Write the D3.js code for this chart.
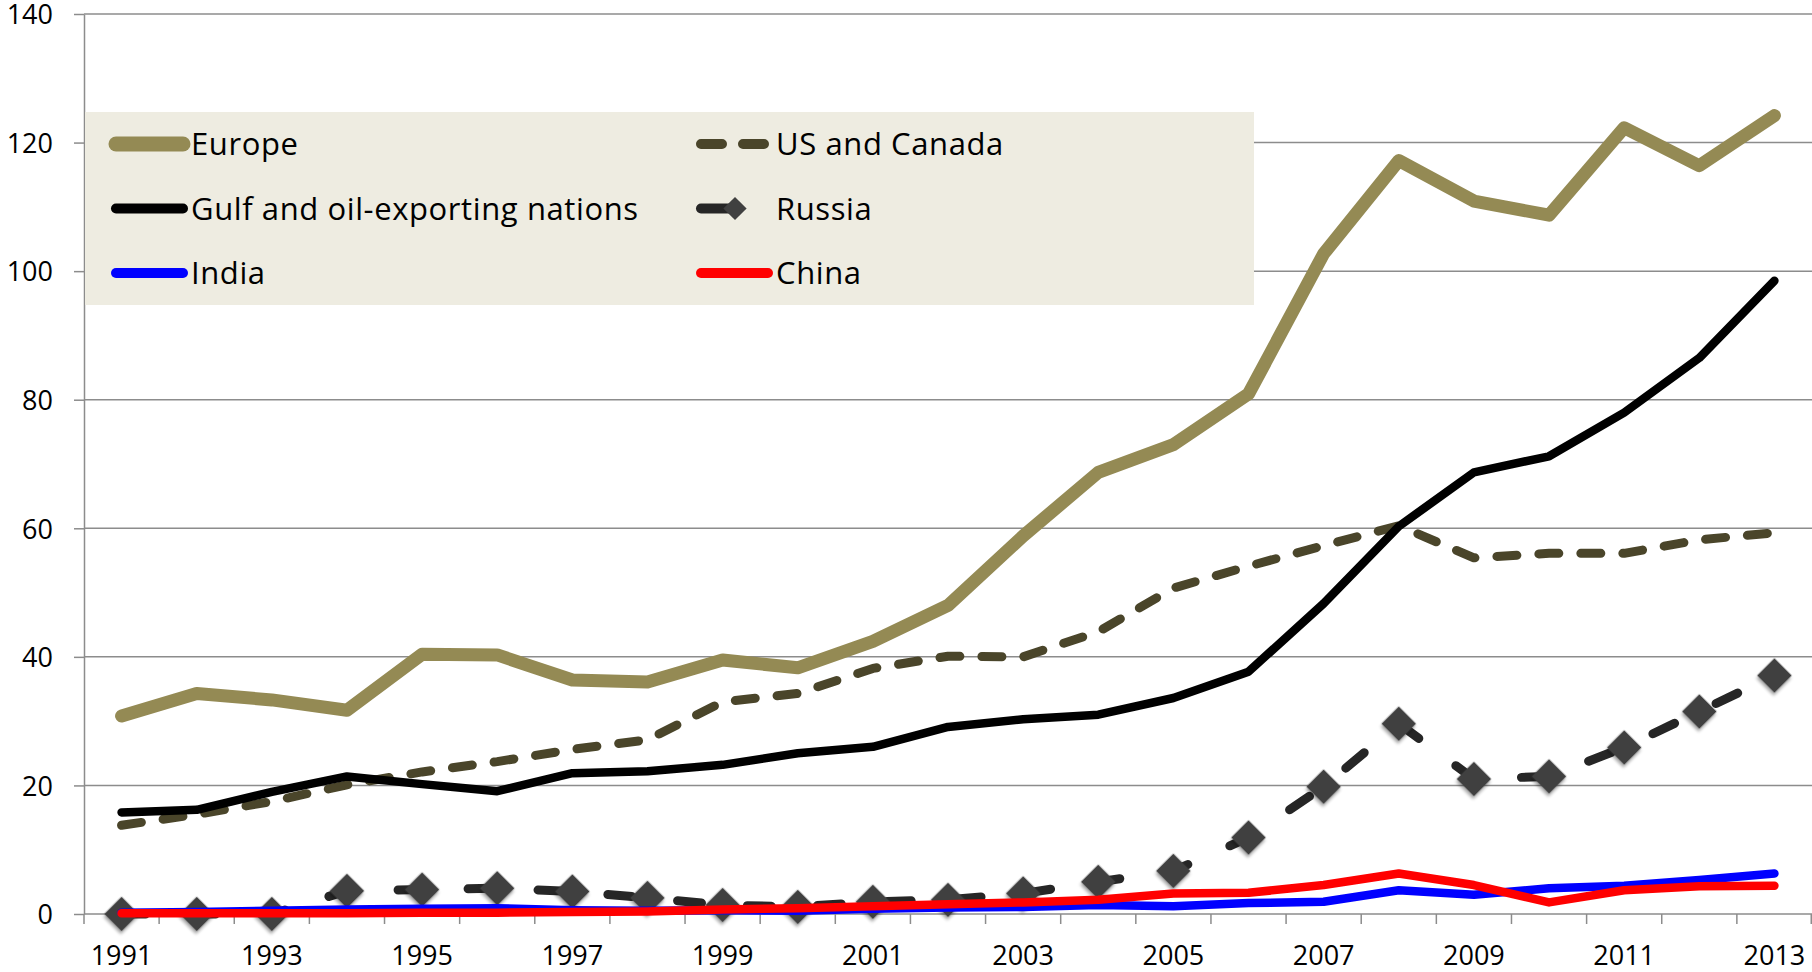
<!DOCTYPE html>
<html>
<head>
<meta charset="utf-8">
<script src="https://cdn.jsdelivr.net/npm/d3@7"></script>
<style>
body { margin: 0; background: #fff; }
text { font-family: "Open Sans", Lato, sans-serif; fill: #000; }
</style>
</head>
<body>
<div id="chart"></div>
<script>
// categories and series
const years = [1991, 1992, 1993, 1994, 1995, 1996, 1997, 1998, 1999, 2000, 2001, 2002,
               2003, 2004, 2005, 2006, 2007, 2008, 2009, 2010, 2011, 2012, 2013];
const europe   = [30.8, 34.3, 33.3, 31.7, 40.4, 40.3, 36.4, 36.1, 39.5, 38.3, 42.4, 48.0,
                  58.8, 68.7, 73.0, 80.9, 102.7, 117.2, 110.9, 108.7, 122.3, 116.4, 124.2];
const usCanada = [13.8, 15.5, 17.5, 20.1, 22.1, 23.7, 25.6, 27.1, 33.0, 34.3, 38.2, 40.1,
                  40.0, 43.9, 50.7, 54.1, 57.3, 60.4, 55.4, 56.1, 56.1, 58.2, 59.3];
const gulf     = [15.8, 16.2, 19.0, 21.4, 20.2, 19.1, 21.9, 22.2, 23.2, 25.0, 26.0, 29.1,
                  30.3, 31.0, 33.6, 37.7, 48.3, 60.3, 68.7, 71.2, 78.0, 86.5, 98.5];
const russia   = [0, 0, 0, 3.6, 3.8, 4.0, 3.5, 2.5, 1.4, 1.1, 1.9, 2.2,
                  3.2, 5.0, 6.7, 11.9, 19.8, 29.6, 21.0, 21.4, 25.9, 31.5, 37.1];
const india    = [0.2, 0.3, 0.5, 0.7, 0.8, 0.9, 0.6, 0.5, 0.6, 0.5, 0.8, 1.0,
                  1.1, 1.4, 1.2, 1.7, 1.9, 3.7, 3.0, 4.0, 4.4, 5.3, 6.3];
const china    = [0.1, 0.1, 0.1, 0.1, 0.2, 0.2, 0.3, 0.4, 0.7, 0.9, 1.2, 1.5,
                  1.8, 2.2, 3.2, 3.3, 4.5, 6.3, 4.5, 1.8, 3.7, 4.3, 4.4];
const yTicks = [0, 20, 40, 60, 80, 100, 120, 140];
const xLabels = [1991, 1993, 1995, 1997, 1999, 2001, 2003, 2005, 2007, 2009, 2011, 2013];

const width = 1812, height = 972;
const margin = {top: 14, right: 0, bottom: 58, left: 84};

const svg = d3.select("#chart").append("svg")
  .attr("width", width)
  .attr("height", height);

const defs = svg.append("defs");
defs.append("filter").attr("id", "shadow")
  .attr("x", "-50%").attr("y", "-50%").attr("width", "200%").attr("height", "200%")
  .append("feDropShadow")
  .attr("dx", 1.5).attr("dy", 2.5).attr("stdDeviation", 1.5)
  .attr("flood-color", "#000").attr("flood-opacity", 0.35);

const x = d3.scaleBand()
  .domain(years)
  .range([margin.left, width - margin.right])
  .padding(0);

const y = d3.scaleLinear()
  .domain([0, 140])
  .range([height - margin.bottom, margin.top]);

const cx = d => x(d) + x.bandwidth() / 2;

// gridlines
svg.append("g")
  .selectAll("line")
  .data(yTicks.slice(1))
  .join("line")
  .attr("x1", margin.left)
  .attr("x2", width - margin.right)
  .attr("y1", d => y(d))
  .attr("y2", d => y(d))
  .attr("stroke", "#8c8c8c")
  .attr("stroke-width", 1.5);

// y axis
const yAxis = svg.append("g")
  .attr("transform", `translate(${margin.left},0)`)
  .call(d3.axisLeft(y).tickValues(yTicks).tickSize(10).tickPadding(21).tickSizeOuter(0));
yAxis.select(".domain").attr("stroke", "#8c8c8c").attr("stroke-width", 1.5);
yAxis.selectAll(".tick line").attr("stroke", "#8c8c8c").attr("stroke-width", 1.5);
yAxis.selectAll("text").style("font-size", "27px").attr("dy", "0.36em");

// x axis: line, boundary ticks, labels on odd years
const xAxis = svg.append("g")
  .attr("transform", `translate(0,${y(0)})`);
xAxis.append("line")
  .attr("x1", margin.left).attr("x2", width - margin.right)
  .attr("stroke", "#8c8c8c").attr("stroke-width", 1.5);
xAxis.selectAll(".bt")
  .data(years)
  .join("line")
  .attr("class", "bt")
  .attr("x1", d => x(d)).attr("x2", d => x(d))
  .attr("y1", 0).attr("y2", 10)
  .attr("stroke", "#8c8c8c").attr("stroke-width", 1.5);
xAxis.append("line")
  .attr("x1", width - margin.right - 0.75).attr("x2", width - margin.right - 0.75)
  .attr("y1", 0).attr("y2", 10)
  .attr("stroke", "#8c8c8c").attr("stroke-width", 1.5);
xAxis.selectAll("text")
  .data(xLabels)
  .join("text")
  .attr("x", d => cx(d))
  .attr("y", 51)
  .attr("text-anchor", "middle")
  .style("font-size", "27px")
  .text(d => d);

const line = d3.line()
  .x((d, i) => cx(years[i]))
  .y(d => y(d));

const series = [
  {name: "Europe", values: europe, color: "#948a54", w: 13},
  {name: "US and Canada", values: usCanada, color: "#4a452a", w: 9, dash: "20,22"},
  {name: "Gulf and oil-exporting nations", values: gulf, color: "#000000", w: 8.5},
  {name: "Russia", values: russia, color: "#262626", w: 9, dash: "24,46", marker: true},
  {name: "India", values: india, color: "#0000ff", w: 8.5},
  {name: "China", values: china, color: "#ff0000", w: 8.5}
];

const diamond = d3.symbol().type(d3.symbolSquare);

series.forEach(s => {
  svg.append("path")
    .datum(s.values)
    .attr("d", line)
    .attr("fill", "none")
    .attr("stroke", s.color)
    .attr("stroke-width", s.w)
    .attr("stroke-linejoin", "round")
    .attr("stroke-linecap", "round")
    .attr("stroke-dasharray", s.dash || null);
  if (s.marker) {
    svg.append("g")
      .selectAll("path")
      .data(s.values)
      .join("path")
      .attr("d", diamond.size(600))
      .attr("transform", (d, i) => `translate(${cx(years[i])},${y(d)}) rotate(45)`)
      .attr("fill", "#404040")
      .attr("filter", "url(#shadow)");
  }
});

// legend
const legend = svg.append("g");
legend.append("rect")
  .attr("x", 85).attr("y", 112)
  .attr("width", 1169).attr("height", 193)
  .attr("fill", "#eeece1");

const legendOrder = ["Europe", "US and Canada", "Gulf and oil-exporting nations", "Russia", "India", "China"];
legendOrder.forEach((name, k) => {
  const s = series.find(d => d.name === name);
  const col = k % 2, row = Math.floor(k / 2);
  const lx = col === 0 ? 116 : 701;
  const tx = col === 0 ? 191 : 776;
  const ly = 144 + row * 64.5;
  const g = legend.append("g");
  const x2 = s.marker ? 735 : lx + 67;
  g.append("line")
    .attr("x1", lx).attr("x2", x2)
    .attr("y1", ly).attr("y2", ly)
    .attr("stroke", s.color)
    .attr("stroke-width", name === "Europe" ? 15 : 10)
    .attr("stroke-linecap", "round")
    .attr("stroke-dasharray", name === "US and Canada" ? "21,21" : null);
  if (s.marker) {
    g.append("path")
      .attr("d", diamond.size(270))
      .attr("transform", `translate(${x2},${ly}) rotate(45)`)
      .attr("fill", "#404040");
  }
  g.append("text")
    .attr("x", tx).attr("y", ly)
    .attr("dy", "0.36em")
    .style("font-size", "31px")
    .style("letter-spacing", "0.6px")
    .text(name);
});
</script>
</body>
</html>
